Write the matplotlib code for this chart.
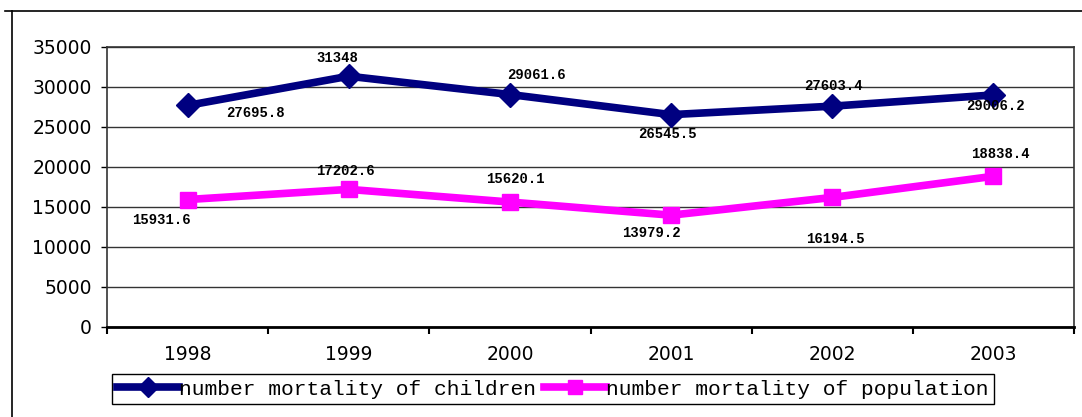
import numpy as np
import matplotlib
matplotlib.use('Agg')
import matplotlib.pyplot as plt
from matplotlib.lines import Line2D

years = ['1998', '1999', '2000', '2001', '2002', '2003']
children = [27695.8, 31348, 29061.6, 26545.5, 27603.4, 29006.2]
population = [15931.6, 17202.6, 15620.1, 13979.2, 16194.5, 18838.4]
children_label = 'number mortality of children'
population_label = 'number mortality of population'

# label offsets in pixels (dx, dy) relative to the point
child_offsets = [(68, -8), (-11, 18), (27, 20), (-4, -19), (1, 20), (2, -11)]
pop_offsets = [(-26, -20), (-3, 18), (5, 23), (-20, -18), (3, -42), (7, 22)]

fig = plt.figure(figsize=(10.82, 4.17), dpi=100)
ax = fig.add_axes([107 / 1082, 1 - 327 / 417, (1074 - 107) / 1082, 280 / 417])

x = np.arange(len(years))
ax.plot(x, children, color='#000080', lw=5.5, marker='D', ms=12,
        label=children_label)
ax.plot(x, population, color='#FF00FF', lw=5.5, marker='s', ms=12,
        label=population_label)

for xi, v, (dx, dy) in zip(x, children, child_offsets):
    ax.annotate(f'{v:g}', (xi, v), xytext=(dx, dy), textcoords='offset pixels',
                ha='center', va='center', fontsize=10, fontweight='bold',
                family='Liberation Mono', color='black')
for xi, v, (dx, dy) in zip(x, population, pop_offsets):
    ax.annotate(f'{v:g}', (xi, v), xytext=(dx, dy), textcoords='offset pixels',
                ha='center', va='center', fontsize=10, fontweight='bold',
                family='Liberation Mono', color='black')

ax.set_xlim(-0.5, len(years) - 0.5)
ax.set_ylim(0, 35000)
ax.set_yticks(np.arange(0, 35001, 5000))
ax.set_yticklabels([str(v) for v in range(0, 35001, 5000)], fontsize=13.5)
ax.yaxis.grid(True, color='#333333', lw=1)
ax.set_axisbelow(True)

ax.set_xticks(np.arange(-0.5, len(years), 1.0))
ax.set_xticklabels([])
ax.set_xticks(x, minor=True)
ax.set_xticklabels(years, minor=True, fontsize=13.5)
ax.tick_params(axis='x', which='minor', length=0, pad=13)
ax.tick_params(axis='x', which='major', length=5, width=1.5, direction='out')
ax.tick_params(axis='y', length=4, width=1, direction='out', pad=7)

for s in ['top', 'right', 'left']:
    ax.spines[s].set_color('#333333')
    ax.spines[s].set_linewidth(1.2)
ax.spines['bottom'].set_color('black')
ax.spines['bottom'].set_linewidth(2)

leg = fig.legend(loc='lower left', bbox_to_anchor=(112 / 1082, 1 - 404 / 417),
                 ncol=2, frameon=True, fancybox=False, framealpha=1,
                 edgecolor='black', handlelength=2.9, handletextpad=0.0,
                 columnspacing=0.4, borderpad=0.25, borderaxespad=0,
                 markerscale=0.85,
                 prop={'family': 'Liberation Mono', 'size': 15.3})
leg.get_frame().set_linewidth(1)

# outer chart border (partially visible)
fig.add_artist(Line2D([5 / 1082, 1], [1 - 11 / 417, 1 - 11 / 417],
                      transform=fig.transFigure, color='black', lw=1.2))
fig.add_artist(Line2D([12 / 1082, 12 / 1082], [1 - 11 / 417, 0],
                      transform=fig.transFigure, color='black', lw=1.2))

fig.savefig('out.png', dpi=100, facecolor='white')
